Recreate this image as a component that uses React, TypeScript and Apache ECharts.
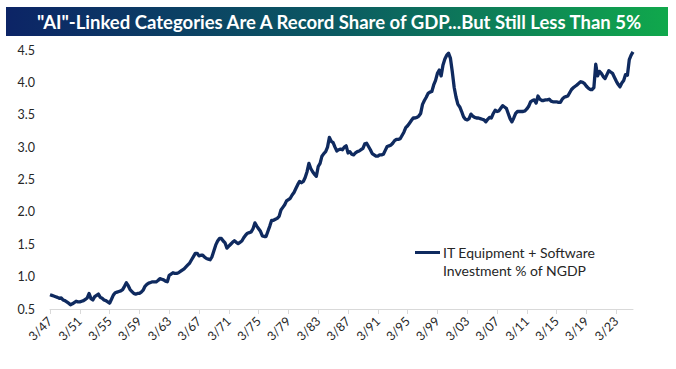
import React, { useEffect, useRef } from "react";
import * as echarts from "echarts";

const TITLE = '"AI"-Linked Categories Are A Record Share of GDP...But Still Less Than 5%';
const LEGEND_LINES = ["IT Equipment + Software", "Investment % of NGDP"];
const SERIES_NAME = "IT Equipment + Software Investment % of NGDP";
const FIRST_YEAR = 1947;
const QUARTER_MONTHS = [3, 6, 9, 12];
const LABEL_EVERY = 16; // one label every 4 years (3/47, 3/51, ...)
const Y_MIN = 0.5;
const Y_MAX = 4.5;
const Y_STEP = 0.5;

// Quarterly values, % of nominal GDP
const v1940s = [
  0.72, 0.71, 0.70, 0.69,
  0.68, 0.665, 0.67, 0.64,
  0.63, 0.61, 0.59, 0.565,
];
const v1950s = [
  0.58, 0.60, 0.62, 0.61,
  0.61, 0.62, 0.63, 0.65,
  0.67, 0.74, 0.66, 0.64,
  0.69, 0.71, 0.73, 0.68,
  0.665, 0.64, 0.63, 0.61,
  0.59, 0.65, 0.715, 0.75,
  0.76, 0.77, 0.78, 0.80,
  0.85, 0.905, 0.86, 0.80,
  0.77, 0.74, 0.73, 0.74,
  0.74, 0.76, 0.79, 0.85,
];
const v1960s = [
  0.88, 0.90, 0.91, 0.92,
  0.92, 0.92, 0.94, 0.97,
  0.96, 0.95, 0.93, 0.92,
  1.02, 1.04, 1.06, 1.05,
  1.05, 1.06, 1.08, 1.10,
  1.12, 1.15, 1.18, 1.21,
  1.26, 1.31, 1.36, 1.36,
  1.32, 1.33, 1.33, 1.30,
  1.28, 1.27, 1.26, 1.31,
  1.40, 1.49, 1.55, 1.59,
];
const v1970s = [
  1.59, 1.55, 1.52, 1.44,
  1.47, 1.50, 1.53, 1.555,
  1.53, 1.51, 1.53, 1.55,
  1.60, 1.64, 1.67, 1.68,
  1.69, 1.74, 1.83, 1.78,
  1.74, 1.70, 1.63, 1.62,
  1.62, 1.70, 1.78, 1.87,
  1.87, 1.885, 1.90, 1.93,
  2.03, 2.07, 2.11, 2.17,
  2.19, 2.21, 2.26, 2.30,
];
const v1980s = [
  2.36, 2.42, 2.47, 2.45,
  2.47, 2.53, 2.62, 2.75,
  2.67, 2.62, 2.58, 2.55,
  2.70, 2.75, 2.86, 2.90,
  2.93, 3.00, 3.15, 3.09,
  3.07, 3.00, 2.94, 2.96,
  2.97, 2.96, 3.00, 3.02,
  2.91, 2.93, 2.89, 2.88,
  2.91, 2.93, 2.94, 2.96,
  2.98, 3.05, 3.06, 3.01,
];
const v1990s = [
  2.96, 2.90, 2.88, 2.86,
  2.86, 2.88, 2.88, 2.89,
  2.95, 3.01, 3.02, 3.03,
  3.06, 3.10, 3.12, 3.12,
  3.13, 3.18, 3.23, 3.30,
  3.33, 3.37, 3.41, 3.45,
  3.45, 3.46, 3.48, 3.52,
  3.66, 3.72, 3.77, 3.83,
  3.85, 3.86, 3.96, 4.03,
  4.14, 4.19, 4.10, 4.27,
];
const v2000s = [
  4.36, 4.42, 4.45, 4.37,
  4.16, 3.92, 3.77, 3.66,
  3.62, 3.55, 3.47, 3.43,
  3.42, 3.44, 3.51, 3.48,
  3.46, 3.45, 3.45, 3.44,
  3.43, 3.42, 3.39, 3.43,
  3.46, 3.45, 3.52, 3.57,
  3.55, 3.56, 3.60, 3.64,
  3.62, 3.60, 3.52, 3.44,
  3.39, 3.45, 3.52, 3.55,
];
const v2010s = [
  3.55, 3.55, 3.55, 3.56,
  3.59, 3.63, 3.70, 3.72,
  3.73, 3.68, 3.79, 3.74,
  3.72, 3.72, 3.73, 3.73,
  3.74, 3.71, 3.70, 3.70,
  3.70, 3.69, 3.69, 3.74,
  3.77, 3.78, 3.79, 3.84,
  3.89, 3.92, 3.94, 3.96,
  3.99, 4.01, 4.00, 3.98,
  3.94, 3.91, 3.89, 3.89,
];
const v2020s = [
  3.92, 4.28, 4.10, 4.17,
  4.14, 4.09, 4.06, 4.12,
  4.18, 4.16, 4.14, 4.08,
  4.02, 3.97, 3.93, 3.99,
  4.03, 4.12, 4.11, 4.35,
  4.42, 4.47,
];

const values = [
  ...v1940s, ...v1950s, ...v1960s, ...v1970s, ...v1980s,
  ...v1990s, ...v2000s, ...v2010s, ...v2020s,
];

const categories = values.map((_, i) => {
  const yr = (FIRST_YEAR + Math.floor(i / 4)) % 100;
  return `${QUARTER_MONTHS[i % 4]}/${String(yr).padStart(2, "0")}`;
});

const LINE_COLOR = "#0f2a5f";
const FONT = "Lato, 'Noto Sans', sans-serif";

export default function App() {
  const ref = useRef<HTMLDivElement>(null);

  useEffect(() => {
    if (!ref.current) return;
    const chart = echarts.init(ref.current, null, { renderer: "svg" });
    const showTick = (index: number) => index % LABEL_EVERY === 0;
    chart.setOption({
      animation: false,
      backgroundColor: "#ffffff",
      textStyle: { fontFamily: FONT },
      grid: { left: 50, right: 43, top: 50, bottom: 60, containLabel: false },
      xAxis: {
        type: "category",
        data: categories,
        boundaryGap: false,
        axisLine: { lineStyle: { color: "#d9d9d9", width: 1 } },
        axisTick: { show: true, interval: showTick, length: 5, lineStyle: { color: "#d9d9d9" } },
        axisLabel: {
          interval: showTick,
          rotate: 45,
          color: "#262626",
          fontSize: 12.5,
          fontFamily: FONT,
          margin: 10,
        },
        splitLine: { show: false },
      },
      yAxis: {
        type: "value",
        min: Y_MIN,
        max: Y_MAX,
        interval: Y_STEP,
        axisLine: { show: false },
        axisTick: { show: false },
        splitLine: { show: false },
        axisLabel: {
          color: "#262626",
          fontSize: 12.5,
          fontFamily: FONT,
          margin: 15,
          formatter: (v: number) => v.toFixed(1),
        },
      },
      series: [
        {
          name: SERIES_NAME,
          type: "line",
          data: values,
          showSymbol: false,
          symbol: "none",
          lineStyle: { color: LINE_COLOR, width: 3.3, join: "round" },
          itemStyle: { color: LINE_COLOR },
        },
      ],
      graphic: [
        {
          type: "rect",
          shape: { x: 6, y: 7, width: 662, height: 29 },
          style: {
            fill: new echarts.graphic.LinearGradient(0, 0, 1, 0, [
              { offset: 0, color: "#0c2466" },
              { offset: 0.5, color: "#0b5a62" },
              { offset: 1, color: "#10a84c" },
            ]),
          },
          z: 10,
        },
        {
          type: "text",
          x: 339,
          y: 21.5,
          style: {
            text: TITLE,
            fill: "#ffffff",
            font: `bold 18.5px ${FONT}`,
            align: "center",
            verticalAlign: "middle",
          },
          z: 11,
        },
        {
          type: "line",
          shape: { x1: 415, y1: 252.5, x2: 440, y2: 252.5 },
          style: { stroke: LINE_COLOR, lineWidth: 3 },
          z: 11,
        },
        {
          type: "text",
          x: 443,
          y: 244,
          style: {
            text: LEGEND_LINES.join("\n"),
            fill: "#262626",
            font: `14px ${FONT}`,
            lineHeight: 17.5,
            align: "left",
            verticalAlign: "top",
          },
          z: 11,
        },
      ],
    });
    return () => chart.dispose();
  }, []);

  return (
    <div
      ref={ref}
      style={{ position: "fixed", left: 0, top: 0, width: 676, height: 369 }}
    />
  );
}
